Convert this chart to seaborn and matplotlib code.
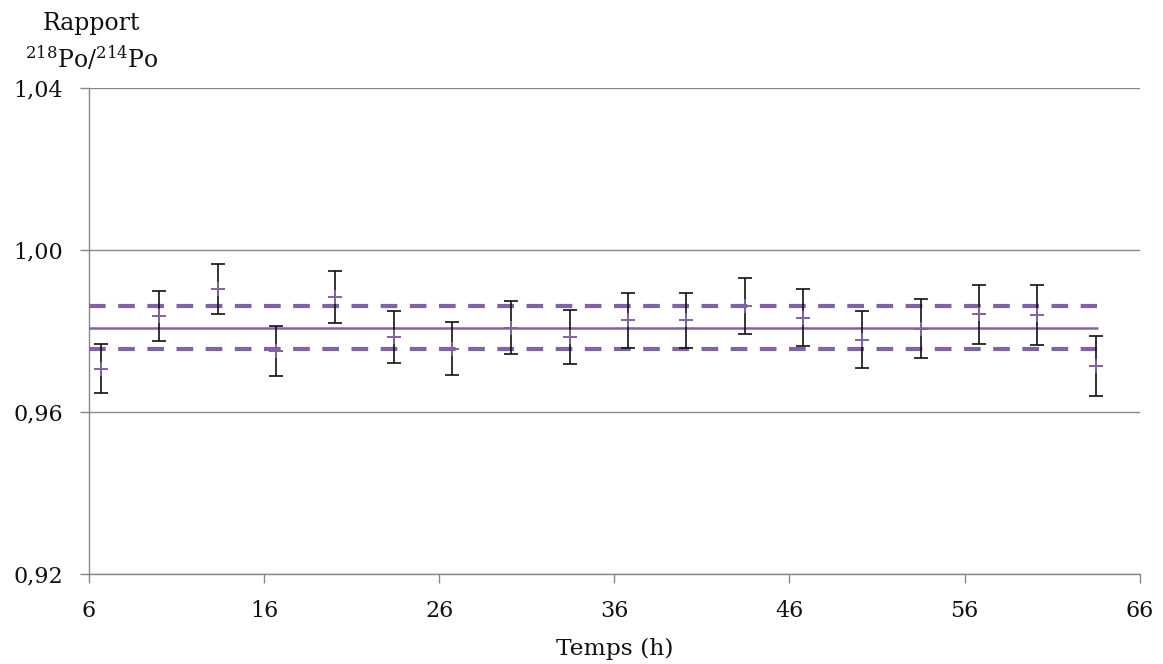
import numpy as np
import pandas as pd
import matplotlib
matplotlib.use("Agg")
import matplotlib.pyplot as plt
import matplotlib.ticker as mticker
import seaborn as sns

# values
temps = [6.7, 10.0, 13.35, 16.7, 20.05, 23.4, 26.75, 30.1, 33.45, 36.8,
         40.1, 43.45, 46.8, 50.15, 53.5, 56.8, 60.15, 63.5]
ratio = [0.9707, 0.9837, 0.9903, 0.9750, 0.9884, 0.9786, 0.9756, 0.9808, 0.9786, 0.9826,
         0.9826, 0.9861, 0.9833, 0.9779, 0.9806, 0.9841, 0.9840, 0.9714]
err = [0.0061, 0.0062, 0.0062, 0.0062, 0.0064, 0.0064, 0.0065, 0.0066, 0.0067, 0.0067,
       0.0069, 0.0069, 0.0071, 0.0071, 0.0072, 0.0073, 0.0074, 0.0074]
mean_ratio = 0.9807
band_low = 0.9755
band_high = 0.9862
line_span = [6, 63.55]

xticks = [6, 16, 26, 36, 46, 56, 66]
yticks = [0.92, 0.96, 1.00, 1.04]

purple = "#8064A2"
grey = "#888888"
ink = "#111111"

df = pd.DataFrame({"temps": temps, "ratio": ratio, "err": err})
lines = pd.DataFrame({
    "temps": line_span * 3,
    "val": [mean_ratio] * 2 + [band_low] * 2 + [band_high] * 2,
    "kind": ["moy"] * 2 + ["bas"] * 2 + ["haut"] * 2,
})

sns.set_style("white")
plt.rcParams["font.family"] = ["DejaVu Serif"]
plt.rcParams["mathtext.fontset"] = "dejavuserif"

fig = plt.figure(figsize=(11.63, 6.64), dpi=100)
ax = fig.add_axes([0.0765, 0.1355, 0.9035, 0.732])

# mean line and dashed bounds
sns.lineplot(data=lines[lines["kind"] == "moy"], x="temps", y="val", color=purple,
             lw=1.8, ax=ax, zorder=3)
for k in ["bas", "haut"]:
    sns.lineplot(data=lines[lines["kind"] == k], x="temps", y="val", color=purple,
                 lw=3.0, ax=ax, zorder=3)
    ax.lines[-1].set_dashes((4, 3))

ax.errorbar(df["temps"], df["ratio"], yerr=df["err"], fmt="none", ecolor=ink,
            elinewidth=1.2, capsize=5, capthick=1.2, zorder=4)
sns.scatterplot(data=df, x="temps", y="ratio", marker="+", color=purple, s=100,
                linewidth=1.4, ax=ax, zorder=5)

ax.set_xlim(6, 66)
ax.set_ylim(0.92, 1.04)
ax.set_xticks(xticks)
ax.set_yticks(yticks)
ax.yaxis.set_major_formatter(mticker.FuncFormatter(lambda v, p: f"{v:.2f}".replace(".", ",")))
ax.grid(axis="y", color=grey, lw=1.0)
ax.grid(axis="x", visible=False)
for s in ["top", "right"]:
    ax.spines[s].set_visible(False)
for s in ["left", "bottom"]:
    ax.spines[s].set_color(grey)
    ax.spines[s].set_linewidth(1.0)
ax.tick_params(axis="both", direction="out", length=6.5, width=1.0, color=grey,
               labelsize=16, labelcolor=ink, bottom=True, left=True)
ax.tick_params(axis="x", pad=12.5)
ax.tick_params(axis="y", pad=12)
ax.set_xlabel("Temps (h)", fontsize=16.8, color=ink, labelpad=11)
ax.set_ylabel("")

fig.text(0.079, 0.965, "Rapport", ha="center", va="center", fontsize=17, color=ink)
fig.text(0.079, 0.912, r"$^{218}$Po/$^{214}$Po", ha="center", va="center",
         fontsize=17, color=ink)

fig.savefig("out.png", dpi=100)
